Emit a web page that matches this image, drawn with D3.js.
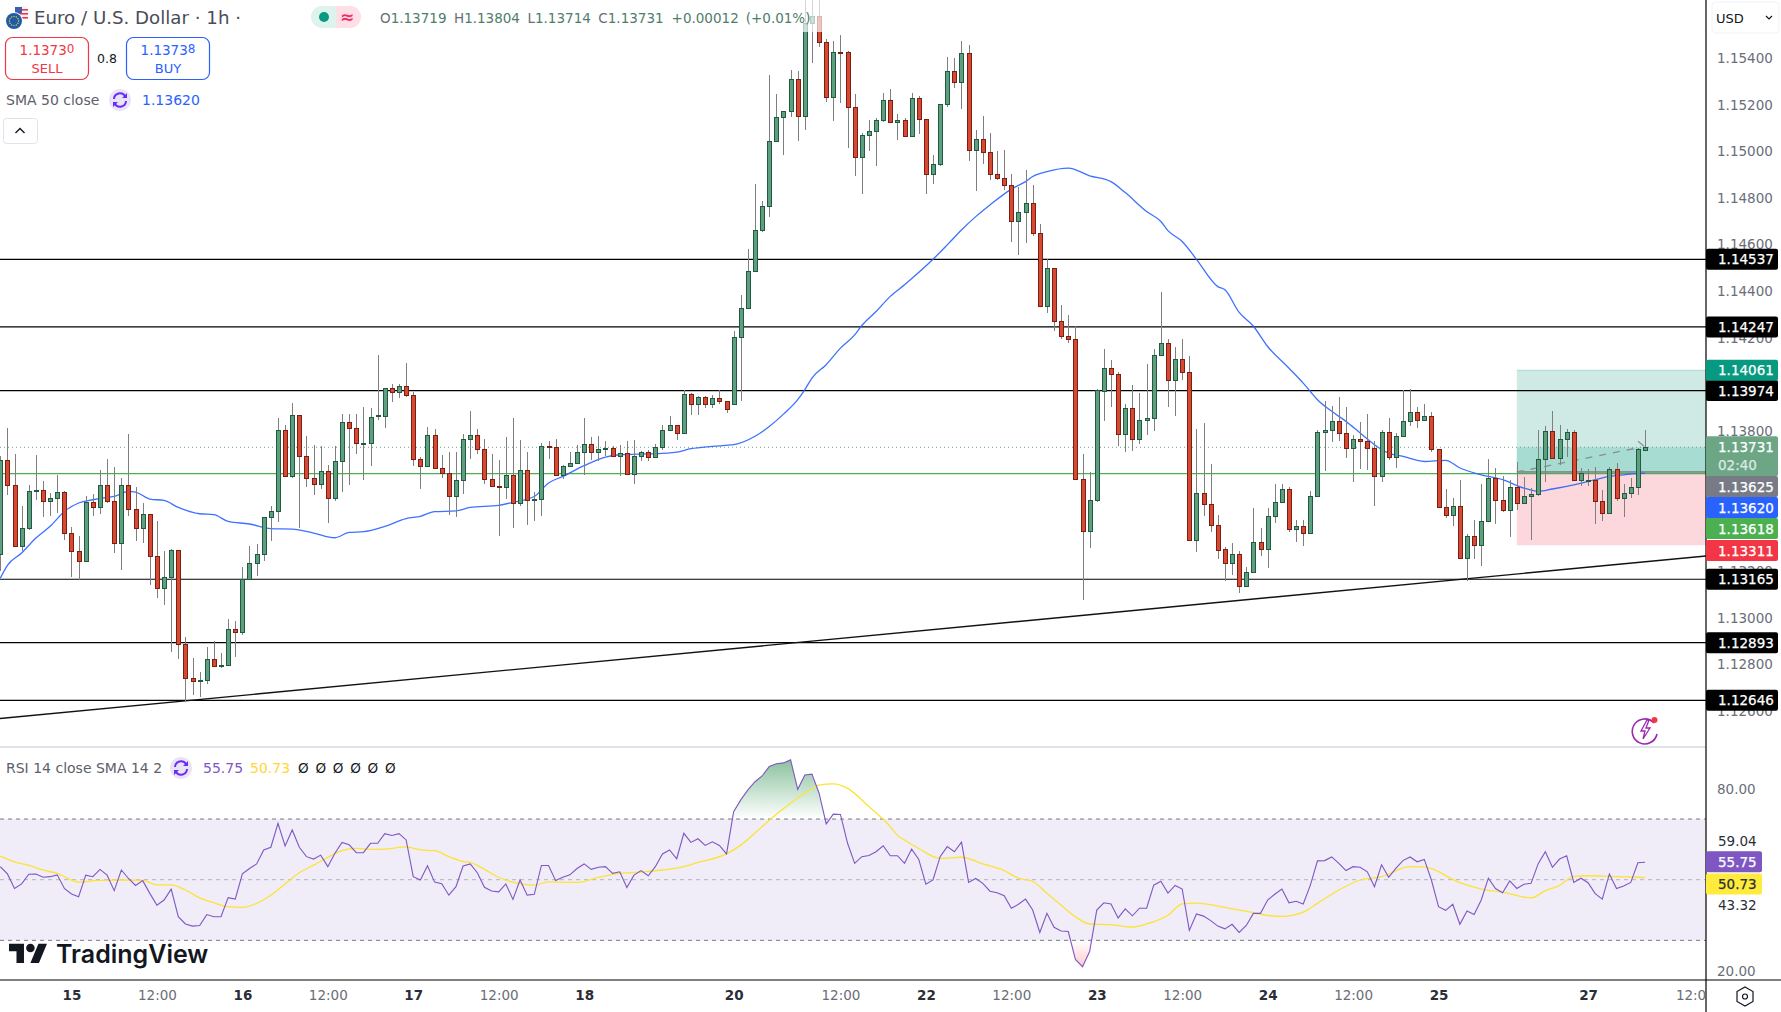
<!DOCTYPE html>
<html>
<head>
<meta charset="utf-8">
<script src="https://cdn.jsdelivr.net/npm/d3@7"></script>
<style>
html, body { margin: 0; padding: 0; background: #fff; }
svg { display: block; }
text { font-family: "DejaVu Sans", sans-serif; }
</style>
</head>
<body>
<div id="viz"></div>
<script>
// EUR/USD 1h candles
var highs = [
1.13692,1.13813,1.13703,1.13480,1.13570,1.13699,1.13585,1.13535,1.13613,1.13545,
1.13390,1.13352,1.13523,1.13532,1.13635,1.13682,1.13648,1.13599,1.13789,1.13560,
1.13492,1.13445,1.13416,1.13288,1.13295,1.13290,1.12919,1.12829,1.12769,1.12875,
1.12900,1.12850,1.12996,1.12988,1.13219,1.13309,1.13318,1.13432,1.13480,1.13856,
1.13828,1.13920,1.13869,1.13780,1.13742,1.13736,1.13656,1.13736,1.13873,1.13873,
1.13873,1.13902,1.13899,1.14128,1.13985,1.14003,1.14003,1.14092,1.13966,1.13689,
1.13818,1.13809,1.13699,1.13712,1.13710,1.13789,1.13888,1.13809,1.13768,1.13703,
1.13678,1.13775,1.13858,1.13763,1.13710,1.13539,1.13749,1.13760,1.13766,1.13653,
1.13709,1.13742,1.13858,1.13776,1.13780,1.13759,1.13738,1.13742,1.13759,1.13763,
1.13716,1.13720,1.13746,1.13826,1.13866,1.13826,1.13975,1.13963,1.13949,1.13949,
1.13955,1.13975,1.13929,1.14230,1.14385,1.14580,1.14860,1.14788,1.15328,1.15246,
1.15172,1.15349,1.15345,1.15649,1.15649,1.15649,1.15482,1.15473,1.15499,1.15430,
1.15245,1.15078,1.15135,1.15142,1.15249,1.15268,1.15160,1.15142,1.15249,1.15236,
1.15138,1.14983,1.15202,1.15403,1.15400,1.15473,1.15456,1.15092,1.15152,1.15078,
1.15002,1.15006,1.14902,1.14849,1.14920,1.14856,1.14689,1.14538,1.14499,1.14340,
1.14299,1.14249,1.13702,1.13625,1.13980,1.14153,1.14106,1.14055,1.13918,1.13999,
1.13963,1.14089,1.14153,1.14396,1.14196,1.14162,1.14196,1.14123,1.13810,1.13835,
1.13659,1.13440,1.13303,1.13320,1.13288,1.13219,1.13472,1.13386,1.13470,1.13575,
1.13575,1.13560,1.13420,1.13420,1.13543,1.13806,1.13929,1.13908,1.13946,1.13903,
1.13783,1.13839,1.13875,1.13758,1.13805,1.13856,1.13792,1.13975,1.13980,1.13903,
1.13916,1.13882,1.13723,1.13552,1.13513,1.13592,1.13359,1.13420,1.13575,1.13680,
1.13642,1.13608,1.13592,1.13669,1.13603,1.13558,1.13805,1.13822,1.13886,1.13826,
1.13809,1.13805,1.13642,1.13638,1.13646,1.13548,1.13646,1.13663,1.13573,1.13599,
1.13728,1.13804];
var lows = [
1.13199,1.13528,1.13302,1.13285,1.13378,1.13503,1.13430,1.13435,1.13449,1.13335,
1.13173,1.13160,1.13242,1.13435,1.13446,1.13490,1.13279,1.13206,1.13438,1.13330,
1.13322,1.13142,1.13086,1.13053,1.12855,1.12825,1.12642,1.12668,1.12662,1.12718,
1.12792,1.12786,1.12796,1.12833,1.12928,1.13166,1.13180,1.13245,1.13330,1.13412,
1.13606,1.13598,1.13383,1.13559,1.13525,1.13550,1.13405,1.13499,1.13540,1.13570,
1.13703,1.13592,1.13652,1.13849,1.13815,1.13923,1.13942,1.13945,1.13649,1.13553,
1.13649,1.13640,1.13600,1.13442,1.13430,1.13532,1.13682,1.13703,1.13575,1.13560,
1.13352,1.13510,1.13386,1.13478,1.13399,1.13413,1.13435,1.13682,1.13610,1.13595,
1.13645,1.13658,1.13610,1.13678,1.13670,1.13695,1.13692,1.13606,1.13615,1.13572,
1.13670,1.13670,1.13683,1.13720,1.13805,1.13763,1.13786,1.13870,1.13870,1.13900,
1.13900,1.13918,1.13879,1.13916,1.13928,1.14328,1.14486,1.14652,1.14720,1.15043,
1.14985,1.15149,1.15046,1.15092,1.15378,1.15449,1.15213,1.15132,1.15209,1.15016,
1.14896,1.14815,1.15003,1.14935,1.15125,1.15125,1.15050,1.15063,1.15065,1.15075,
1.14819,1.14858,1.14938,1.15192,1.15273,1.15183,1.14960,1.14828,1.14946,1.14878,
1.14878,1.14835,1.14612,1.14556,1.14609,1.14635,1.14336,1.14308,1.14228,1.14196,
1.14176,1.13595,1.13078,1.13298,1.13495,1.13845,1.13902,1.13735,1.13709,1.13713,
1.13746,1.13785,1.13799,1.14126,1.13902,1.13863,1.14020,1.13333,1.13280,1.13435,
1.13366,1.13252,1.13156,1.13182,1.13105,1.13135,1.13196,1.13263,1.13215,1.13405,
1.13496,1.13366,1.13326,1.13309,1.13363,1.13522,1.13628,1.13752,1.13759,1.13683,
1.13580,1.13636,1.13632,1.13478,1.13580,1.13675,1.13640,1.13779,1.13822,1.13812,
1.13848,1.13710,1.13470,1.13426,1.13395,1.13256,1.13158,1.13253,1.13220,1.13415,
1.13400,1.13452,1.13345,1.13460,1.13492,1.13332,1.13522,1.13580,1.13685,1.13653,
1.13689,1.13590,1.13563,1.13563,1.13400,1.13413,1.13449,1.13499,1.13430,1.13513,
1.13528,1.13714];
var opens = [
1.13273,1.13676,1.13569,1.13306,1.13383,1.13545,1.13548,1.13499,1.13513,1.13539,
1.13363,1.13286,1.13242,1.13496,1.13473,1.13569,1.13501,1.13319,1.13569,1.13466,
1.13383,1.13445,1.13264,1.13126,1.13173,1.13290,1.12887,1.12742,1.12728,1.12732,
1.12823,1.12792,1.12796,1.12952,1.12938,1.13166,1.13235,1.13273,1.13432,1.13456,
1.13805,1.13606,1.13869,1.13693,1.13599,1.13573,1.13629,1.13513,1.13672,1.13839,
1.13813,1.13748,1.13748,1.13863,1.13863,1.13985,1.13966,1.13993,1.13955,1.13680,
1.13649,1.13783,1.13642,1.13620,1.13520,1.13589,1.13764,1.13783,1.13723,1.13595,
1.13565,1.13559,1.13612,1.13492,1.13633,1.13503,1.13508,1.13736,1.13732,1.13610,
1.13649,1.13662,1.13709,1.13745,1.13709,1.13722,1.13728,1.13692,1.13706,1.13615,
1.13692,1.13710,1.13688,1.13732,1.13805,1.13826,1.13792,1.13959,1.13916,1.13946,
1.13916,1.13942,1.13929,1.13916,1.14203,1.14328,1.14486,1.14662,1.14765,1.15043,
1.15146,1.15172,1.15309,1.15150,1.15549,1.15580,1.15468,1.15232,1.15425,1.15425,
1.15189,1.14975,1.15069,1.15086,1.15133,1.15219,1.15125,1.15133,1.15065,1.15228,
1.15138,1.14902,1.14943,1.15202,1.15343,1.15296,1.15420,1.15005,1.15052,1.14996,
1.14902,1.14885,1.14855,1.14700,1.14739,1.14778,1.14649,1.14336,1.14499,1.14272,
1.14208,1.14195,1.13595,1.13372,1.13505,1.13972,1.14070,1.14045,1.13786,1.13899,
1.13765,1.13846,1.13855,1.14126,1.14178,1.14018,1.14109,1.14053,1.13333,1.13535,
1.13486,1.13398,1.13296,1.13235,1.13273,1.13135,1.13196,1.13325,1.13293,1.13436,
1.13496,1.13552,1.13380,1.13393,1.13363,1.13522,1.13796,1.13805,1.13843,1.13792,
1.13728,1.13766,1.13758,1.13728,1.13606,1.13796,1.13688,1.13779,1.13843,1.13882,
1.13848,1.13865,1.13723,1.13475,1.13440,1.13479,1.13256,1.13350,1.13312,1.13415,
1.13599,1.13505,1.13462,1.13560,1.13492,1.13522,1.13529,1.13680,1.13800,1.13685,
1.13766,1.13796,1.13590,1.13586,1.13590,1.13500,1.13449,1.13638,1.13513,1.13535,
1.13560,1.13719];
var closes = [
1.13678,1.13569,1.13306,1.13385,1.13543,1.13548,1.13499,1.13513,1.13539,1.13363,
1.13285,1.13242,1.13496,1.13473,1.13569,1.13499,1.13319,1.13569,1.13465,1.13383,
1.13445,1.13263,1.13126,1.13175,1.13290,1.12886,1.12742,1.12728,1.12733,1.12823,
1.12792,1.12798,1.12952,1.12938,1.13166,1.13235,1.13273,1.13432,1.13458,1.13805,
1.13606,1.13869,1.13692,1.13599,1.13573,1.13629,1.13513,1.13672,1.13839,1.13813,
1.13748,1.13750,1.13860,1.13869,1.13985,1.13966,1.13993,1.13953,1.13679,1.13649,
1.13783,1.13640,1.13619,1.13520,1.13590,1.13766,1.13783,1.13722,1.13593,1.13563,
1.13563,1.13612,1.13492,1.13633,1.13503,1.13509,1.13736,1.13733,1.13610,1.13650,
1.13663,1.13710,1.13745,1.13709,1.13723,1.13728,1.13692,1.13706,1.13615,1.13693,
1.13710,1.13688,1.13732,1.13805,1.13826,1.13792,1.13959,1.13916,1.13946,1.13916,
1.13942,1.13929,1.13895,1.14203,1.14328,1.14486,1.14662,1.14765,1.15043,1.15146,
1.15172,1.15309,1.15150,1.15549,1.15580,1.15468,1.15232,1.15425,1.15423,1.15189,
1.14975,1.15069,1.15086,1.15133,1.15219,1.15125,1.15133,1.15065,1.15228,1.15138,
1.14902,1.14945,1.15202,1.15343,1.15296,1.15420,1.15005,1.15052,1.14996,1.14902,
1.14885,1.14855,1.14700,1.14739,1.14778,1.14649,1.14336,1.14499,1.14270,1.14208,
1.14195,1.13595,1.13372,1.13505,1.13975,1.14070,1.14045,1.13786,1.13899,1.13765,
1.13848,1.13856,1.14126,1.14178,1.14018,1.14109,1.14053,1.13333,1.13535,1.13486,
1.13398,1.13292,1.13235,1.13273,1.13135,1.13196,1.13325,1.13293,1.13436,1.13496,
1.13552,1.13380,1.13393,1.13363,1.13522,1.13796,1.13805,1.13843,1.13792,1.13728,
1.13765,1.13758,1.13728,1.13606,1.13796,1.13688,1.13779,1.13843,1.13882,1.13848,
1.13865,1.13723,1.13475,1.13440,1.13479,1.13256,1.13350,1.13312,1.13415,1.13599,
1.13505,1.13462,1.13560,1.13492,1.13522,1.13529,1.13680,1.13800,1.13685,1.13766,
1.13796,1.13590,1.13620,1.13590,1.13500,1.13449,1.13638,1.13513,1.13535,1.13560,
1.13723,1.13731];

// SMA 50, read at the bars where it bends
var smaBars = [0,1,3,5,7,9,11,13,15,16,18,19,21,23,25,28,30,32,35,38,41,44,47,49,51,54,57,59,61,64,66,70,72,75,77,79,82,85,87,90,92,95,97,100,103,106,108,110,112,113,114,116,118,120,121,123,125,127,131,133,135,137,139,142,144,145,147,150,153,156,158,161,163,164,166,168,171,172,174,176,178,181,183,184,185,187,189,191,193,195,197,200,203,205,208,211,214,216,218,221,224,226,228,231];
var smaValues = [1.13170,1.13225,1.13278,1.13342,1.13392,1.13456,1.13492,1.13506,1.13516,1.13520,1.13542,1.13539,1.13509,1.13503,1.13473,1.13446,1.13442,1.13413,1.13402,1.13382,1.13380,1.13363,1.13343,1.13366,1.13369,1.13392,1.13425,1.13435,1.13455,1.13458,1.13473,1.13482,1.13495,1.13520,1.13578,1.13606,1.13652,1.13689,1.13699,1.13702,1.13703,1.13710,1.13725,1.13735,1.13742,1.13778,1.13820,1.13873,1.13935,1.13978,1.14028,1.14085,1.14156,1.14213,1.14253,1.14313,1.14378,1.14428,1.14537,1.14599,1.14663,1.14720,1.14770,1.14838,1.14870,1.14892,1.14913,1.14928,1.14895,1.14870,1.14823,1.14742,1.14699,1.14660,1.14613,1.14537,1.14420,1.14406,1.14309,1.14250,1.14163,1.14070,1.14006,1.13970,1.13935,1.13885,1.13842,1.13792,1.13742,1.13706,1.13692,1.13670,1.13675,1.13642,1.13613,1.13592,1.13556,1.13542,1.13552,1.13570,1.13592,1.13606,1.13613,1.13620];

// RSI 14, one value per bar
var rsiValues = [
54.3,51.9,47.1,48.6,51.8,51.9,50.8,51.0,51.6,47.1,
45.3,44.4,51.5,51.0,53.4,51.5,46.4,53.2,50.4,48.1,
49.7,45.5,41.6,43.3,46.9,37.8,35.4,34.7,34.9,38.5,
37.8,37.8,44.1,43.6,51.9,53.7,55.2,59.8,60.7,68.6,
61.1,66.4,60.7,57.6,56.8,58.1,54.3,58.7,62.3,61.5,
58.9,58.9,62.0,62.0,65.2,64.6,65.2,63.1,51.0,49.9,
54.6,49.2,48.7,44.9,47.7,54.5,55.2,52.3,47.5,46.3,
46.0,48.6,43.5,49.9,44.9,45.2,54.7,54.7,49.7,50.8,
51.6,53.7,55.2,53.4,54.1,54.3,52.1,52.6,47.4,51.5,
53.0,51.3,54.3,58.5,59.8,56.9,65.3,62.3,63.5,61.3,
62.5,61.3,58.5,72.4,76.3,79.6,82.3,84.2,87.3,88.2,
88.5,89.5,79.8,84.5,84.8,78.5,68.4,71.6,71.5,62.0,
55.4,57.6,58.0,59.2,61.2,57.9,57.9,55.4,60.1,56.7,
48.5,49.9,57.6,60.9,59.2,62.4,49.1,50.4,48.8,46.2,
45.7,44.7,40.6,41.9,43.6,40.0,32.6,38.9,34.3,33.1,
32.9,23.7,21.3,26.3,40.0,42.4,42.0,37.4,40.4,38.1,
40.6,40.6,48.2,49.5,45.6,48.1,46.9,33.3,38.7,38.0,
36.5,34.7,33.8,35.3,32.6,34.9,38.9,38.9,43.3,45.2,
46.9,42.4,42.9,42.0,48.2,56.2,56.3,57.5,55.4,53.0,
54.3,54.1,52.6,47.7,54.9,50.8,53.7,56.3,57.5,55.9,
56.7,49.9,41.1,39.9,41.9,35.3,39.7,38.5,43.3,50.5,
47.1,45.7,49.6,47.1,48.5,48.8,55.3,59.2,54.1,56.8,
57.9,49.1,50.5,49.0,45.4,43.6,51.9,47.1,47.9,49.1,
55.6,55.75];

// RSI smoothing line
var rsiMaBars = [0,2,4,6,8,11,14,17,20,22,24,26,28,30,32,34,36,38,40,42,44,46,48,50,52,54,57,59,61,63,65,66,68,70,72,75,77,81,84,87,90,93,96,98,102,104,107,109,111,113,115,117,119,122,125,126,127,129,132,135,138,141,143,145,147,149,151,153,156,159,161,164,166,168,172,176,178,180,183,185,188,191,194,198,200,205,208,211,215,217,219,221,223,226,231];
var rsiMaValues = [57.8,55.9,54.7,53.2,52.1,49.2,49.8,49.9,49.8,48.3,48.3,46.6,44.0,42.4,41.1,40.9,42.2,44.9,48.6,52.3,54.8,57.4,59.6,60.3,60.0,60.1,60.8,59.8,59.6,57.6,56.0,55.7,53.4,50.8,49.2,48.2,49.3,49.1,50.8,52.1,52.5,53.2,54.3,55.7,58.5,61.4,67.5,71.6,75.2,78.5,81.2,81.6,80.1,74.1,67.5,64.7,63.1,60.3,57.0,57.4,55.2,53.0,50.5,49.4,45.5,41.6,37.8,35.4,35.2,34.4,35.4,38.3,42.0,42.3,40.9,39.1,38.2,37.9,39.3,42.2,46.6,49.9,51.0,54.3,54.2,49.0,46.9,45.9,44.0,46.4,48.1,51.1,51.3,51.1,50.73];

// horizontal levels, trend line ends, axis labels
var levels = [1.14537, 1.14247, 1.13974, 1.13165, 1.12893, 1.12646];
var trendPrices = [1.12568, 1.13265];
var priceTicks = [1.154, 1.152, 1.15, 1.148, 1.146, 1.144, 1.142, 1.138, 1.132, 1.13, 1.128, 1.126];
var rsiTicks = [80, 20];
var timeBars = [10, 22, 34, 46, 58, 70, 82, 103, 118, 130, 142, 154, 166, 178, 190, 202, 223, 238];
var timeLabels = ["15", "12:00", "16", "12:00", "17", "12:00", "18", "20", "12:00", "22", "12:00", "23", "12:00", "24", "12:00", "25", "27", "12:00"];
var position = { stop: 1.13311, entry: 1.13625, target: 1.14061 };
var lastPrice = 1.13731, lastBar = 231, greenLevel = 1.13618, smaLast = 1.13620;

var width = 1781, height = 1012;
var plotRight = 1706, paneBottom = 747, axisTop = 980;

var svg = d3.select("#viz").append("svg").attr("width", width).attr("height", height);
var defs = svg.append("defs");

var x = d3.scaleLinear().domain([0, lastBar]).range([0.3, 1645]);
var y = d3.scaleLinear().domain([1.14537, 1.12646]).range([259.3, 700.3]);
var rsiY = d3.scaleLinear().domain([80, 20]).range([788.7, 970.7]);
var rightBar = x.invert(plotRight);

defs.append("clipPath").attr("id", "mainClip").append("rect").attr("width", plotRight).attr("height", paneBottom);
defs.append("clipPath").attr("id", "timeClip").append("rect").attr("width", plotRight).attr("height", height);
defs.append("clipPath").attr("id", "rsiUp").append("rect").attr("width", plotRight).attr("height", rsiY(70));
defs.append("clipPath").attr("id", "rsiDown").append("rect").attr("y", rsiY(30)).attr("width", plotRight).attr("height", 60);

var main = svg.append("g").attr("clip-path", "url(#mainClip)");

// long position tool
main.append("rect").attr("x", x(213)).attr("width", x(rightBar) - x(213))
    .attr("y", y(position.target)).attr("height", y(position.entry) - y(position.target)).attr("fill", "#cfeae5");
main.append("rect").attr("x", x(213)).attr("width", x(rightBar) - x(213))
    .attr("y", y(lastPrice)).attr("height", y(position.entry) - y(lastPrice)).attr("fill", "#a7dcd2");
main.append("rect").attr("x", x(213)).attr("width", x(rightBar) - x(213))
    .attr("y", y(position.entry)).attr("height", y(position.stop) - y(position.entry)).attr("fill", "#fcd7db");
main.append("line").attr("x1", x(213)).attr("x2", plotRight)
    .attr("y1", y(position.target)).attr("y2", y(position.target)).attr("stroke", "#a5dcd0");

// price lines
main.append("line").attr("x1", 0).attr("x2", plotRight).attr("y1", y(lastPrice)).attr("y2", y(lastPrice))
    .attr("stroke", "#6fa58a").attr("stroke-dasharray", "1 3");
main.append("line").attr("x1", 0).attr("x2", plotRight).attr("y1", y(greenLevel)).attr("y2", y(greenLevel))
    .attr("stroke", "#4caf50").attr("stroke-width", 1.2);
main.append("line").attr("x1", x(213)).attr("x2", plotRight).attr("y1", y(position.entry)).attr("y2", y(position.entry))
    .attr("stroke", "#787b86").attr("stroke-width", 1.5);
main.selectAll(".level").data(levels).enter().append("line")
    .attr("x1", 0).attr("x2", plotRight)
    .attr("y1", function(d) { return y(d); }).attr("y2", function(d) { return y(d); })
    .attr("stroke", "#000").attr("stroke-width", 1.2);
main.append("line").attr("x1", 0).attr("x2", plotRight)
    .attr("y1", y(trendPrices[0])).attr("y2", y(trendPrices[1]))
    .attr("stroke", "#111").attr("stroke-width", 1.4);

// dashed path of the open position
main.append("line").attr("x1", x(213)).attr("x2", x(lastBar) - 4)
    .attr("y1", y(position.entry)).attr("y2", y(lastPrice))
    .attr("stroke", "#8a8d96").attr("stroke-width", 1.3).attr("stroke-dasharray", "7 7");
main.append("path").attr("fill", "none").attr("stroke", "#8a8d96").attr("stroke-width", 1.2)
    .attr("d", "M" + (x(lastBar) - 7) + "," + (y(lastPrice) - 6) + "l6,5");

// SMA goes under the candles
var smaLine = d3.line().x(function(d, i) { return x(smaBars[i]); }).y(function(d) { return y(d); }).curve(d3.curveMonotoneX);
main.append("path").attr("d", smaLine(smaValues)).attr("fill", "none").attr("stroke", "#2962ff").attr("stroke-width", 1.3).attr("opacity", 0.9);

// candles
var candles = main.selectAll(".candle").data(closes).enter().append("g").attr("shape-rendering", "crispEdges");
candles.append("line")
    .attr("x1", function(d, i) { return Math.round(x(i)) + 0.5; })
    .attr("x2", function(d, i) { return Math.round(x(i)) + 0.5; })
    .attr("y1", function(d, i) { return y(highs[i]); })
    .attr("y2", function(d, i) { return y(lows[i]); })
    .attr("stroke", "#7f7f7f");
candles.append("rect")
    .attr("x", function(d, i) { return Math.round(x(i)) - 1.5; })
    .attr("width", 4)
    .attr("y", function(d, i) { return Math.round(y(Math.max(opens[i], d))) + 0.5; })
    .attr("height", function(d, i) { return Math.max(1, Math.round(Math.abs(y(opens[i]) - y(d)))); })
    .attr("fill", function(d, i) { return d >= opens[i] ? "#5f9f7f" : "#d64a34"; })
    .attr("stroke", function(d, i) { return d >= opens[i] ? "#1f5b41" : "#7d1e12"; });

// RSI pane
svg.append("rect").attr("x", 0).attr("width", plotRight).attr("y", rsiY(70)).attr("height", rsiY(30) - rsiY(70)).attr("fill", "#f0ecf8");
var gradUp = defs.append("linearGradient").attr("id", "gradUp").attr("gradientUnits", "userSpaceOnUse")
    .attr("x1", 0).attr("x2", 0).attr("y1", rsiY(90)).attr("y2", rsiY(70));
gradUp.append("stop").attr("offset", 0).attr("stop-color", "#3f9a5f").attr("stop-opacity", 0.62);
gradUp.append("stop").attr("offset", 1).attr("stop-color", "#3f9a5f").attr("stop-opacity", 0);
var gradDown = defs.append("linearGradient").attr("id", "gradDown").attr("gradientUnits", "userSpaceOnUse")
    .attr("x1", 0).attr("x2", 0).attr("y1", rsiY(20)).attr("y2", rsiY(30));
gradDown.append("stop").attr("offset", 0).attr("stop-color", "#f23645").attr("stop-opacity", 0.3);
gradDown.append("stop").attr("offset", 1).attr("stop-color", "#f23645").attr("stop-opacity", 0);

var rsiAreaUp = d3.area().x(function(d, i) { return x(i); }).y0(rsiY(70)).y1(function(d) { return rsiY(d); });
var rsiAreaDown = d3.area().x(function(d, i) { return x(i); }).y0(rsiY(30)).y1(function(d) { return rsiY(d); });
svg.append("path").attr("clip-path", "url(#rsiUp)").attr("d", rsiAreaUp(rsiValues)).attr("fill", "url(#gradUp)");
svg.append("path").attr("clip-path", "url(#rsiDown)").attr("d", rsiAreaDown(rsiValues)).attr("fill", "url(#gradDown)");

svg.selectAll(".rsiGuide").data([70, 50, 30]).enter().append("line")
    .attr("x1", 0).attr("x2", plotRight)
    .attr("y1", function(d) { return rsiY(d); }).attr("y2", function(d) { return rsiY(d); })
    .attr("stroke", function(d) { return d == 50 ? "#b2b5be" : "#787b86"; })
    .attr("stroke-dasharray", "4 4");

var rsiLine = d3.line().x(function(d, i) { return x(i); }).y(function(d) { return rsiY(d); });
var rsiMaLine = d3.line().x(function(d, i) { return x(rsiMaBars[i]); }).y(function(d) { return rsiY(d); }).curve(d3.curveMonotoneX);
svg.append("path").attr("d", rsiMaLine(rsiMaValues)).attr("fill", "none").attr("stroke", "#fde335").attr("stroke-width", 1.3);
svg.append("path").attr("d", rsiLine(rsiValues)).attr("fill", "none").attr("stroke", "#7e57c2").attr("stroke-width", 1.1);

// frame
svg.append("line").attr("x1", 0).attr("x2", plotRight).attr("y1", paneBottom).attr("y2", paneBottom).attr("stroke", "#e0e3eb").attr("stroke-width", 2);
svg.append("line").attr("x1", 0).attr("x2", width).attr("y1", axisTop).attr("y2", axisTop).attr("stroke", "#000").attr("stroke-width", 1.2);
svg.append("line").attr("x1", plotRight).attr("x2", plotRight).attr("y1", 0).attr("y2", height).attr("stroke", "#000").attr("stroke-width", 1.2);

// price axis
var priceAxis = d3.axisRight(y).tickValues(priceTicks).tickFormat(d3.format(".5f")).tickSize(0).tickPadding(11);
var priceG = svg.append("g").attr("transform", "translate(" + plotRight + ",0)").call(priceAxis);
priceG.select(".domain").remove();
priceG.selectAll("text").attr("fill", "#6a6d78").attr("font-size", 13.5).style("font-family", "DejaVu Sans");

var rsiAxis = d3.axisRight(rsiY).tickValues(rsiTicks).tickFormat(d3.format(".2f")).tickSize(0).tickPadding(11);
var rsiG = svg.append("g").attr("transform", "translate(" + plotRight + ",0)").call(rsiAxis);
rsiG.select(".domain").remove();
rsiG.selectAll("text").attr("fill", "#6a6d78").attr("font-size", 13.5).style("font-family", "DejaVu Sans");

// time axis
var timeAxis = d3.axisBottom(x).tickValues(timeBars).tickSize(0).tickPadding(10)
    .tickFormat(function(d, i) { return timeLabels[i]; });
var timeG = svg.append("g").attr("clip-path", "url(#timeClip)").append("g")
    .attr("transform", "translate(0," + axisTop + ")").call(timeAxis);
timeG.select(".domain").remove();
timeG.selectAll("text")
    .attr("font-size", 13.5).style("font-family", "DejaVu Sans")
    .attr("fill", function(d, i) { return timeLabels[i] == "12:00" ? "#6a6d78" : "#2a2e39"; })
    .attr("font-weight", function(d, i) { return timeLabels[i] == "12:00" ? 400 : 700; });

// price tags on the axis
function tagText(xPos, yPos, color, label) {
    svg.append("text").attr("x", xPos).attr("y", yPos).attr("font-size", 13.5).attr("fill", color)
        .attr("stroke", color).attr("stroke-width", 0.25).text(label);
}
function tag(value, color, textColor, label) {
    var cy = y(value);
    svg.append("rect").attr("x", plotRight).attr("y", cy - 10.5).attr("width", 72).attr("height", 21).attr("rx", 2).attr("fill", color);
    tagText(1718, cy + 5, textColor, label);
}
levels.forEach(function(d) { tag(d, "#000", "#fff", d3.format(".5f")(d)); });
tag(position.target, "#089981", "#fff", d3.format(".5f")(position.target));

svg.append("rect").attr("x", plotRight).attr("y", y(lastPrice) - 11).attr("width", 72).attr("height", 40).attr("rx", 2).attr("fill", "#6da685");
tagText(1718, y(lastPrice) + 5, "#fff", d3.format(".5f")(lastPrice));
tagText(1718, y(lastPrice) + 23, "#dcebe2", "02:40");

var stackTags = [
    { label: "1.13625", color: "#787b86", top: 476 },
    { label: "1.13620", color: "#2962ff", top: 497 },
    { label: "1.13618", color: "#4caf50", top: 518 },
    { label: "1.13311", color: "#f23645", top: 540 }
];
stackTags.forEach(function(t) {
    svg.append("rect").attr("x", plotRight).attr("y", t.top).attr("width", 72).attr("height", 21).attr("rx", 2).attr("fill", t.color);
    tagText(1718, t.top + 16, "#fff", t.label);
});

// RSI tags
svg.append("text").attr("x", 1718).attr("y", rsiY(59.04) - 6).attr("font-size", 13.5).attr("fill", "#2a2e39").text("59.04");
svg.append("text").attr("x", 1718).attr("y", rsiY(43.32) + 10).attr("font-size", 13.5).attr("fill", "#2a2e39").text("43.32");
svg.append("rect").attr("x", plotRight).attr("y", rsiY(55.75) - 11).attr("width", 56).attr("height", 21).attr("rx", 2).attr("fill", "#7e57c2");
tagText(1718, rsiY(55.75) + 5, "#fff", "55.75");
svg.append("rect").attr("x", plotRight).attr("y", rsiY(50.73) - 4).attr("width", 56).attr("height", 21).attr("rx", 2).attr("fill", "#ffeb3b");
tagText(1718, rsiY(50.73) + 12, "#2a2e39", "50.73");

// USD button and settings icon
svg.append("rect").attr("x", 1712).attr("y", 2).attr("width", 67).attr("height", 31).attr("rx", 4).attr("fill", "#fff").attr("stroke", "#f0f3fa");
svg.append("text").attr("x", 1716).attr("y", 23).attr("font-size", 13).attr("fill", "#131722").text("USD");
svg.append("path").attr("d", "M1766,16l3,3l3,-3").attr("fill", "none").attr("stroke", "#131722").attr("stroke-width", 1.2);
svg.append("path").attr("d", "M1745,987l8,4.5v10l-8,4.5l-8,-4.5v-10z").attr("fill", "none").attr("stroke", "#131722").attr("stroke-width", 1.2);
svg.append("circle").attr("cx", 1745).attr("cy", 996.5).attr("r", 2.5).attr("fill", "none").attr("stroke", "#131722").attr("stroke-width", 1.2);

// legend: white veil over the candles behind the OHLC text
svg.append("rect").attr("x", 376).attr("y", 0).attr("width", 447).attr("height", 32).attr("fill", "#fff").attr("opacity", 0.68);

// flags
svg.append("circle").attr("cx", 22).attr("cy", 13).attr("r", 7).attr("fill", "#f4f4f6");
[9, 13, 17].forEach(function(cy) {
    svg.append("rect").attr("x", 18).attr("y", cy).attr("width", 10).attr("height", 1.6).attr("fill", "#e8384f");
});
svg.append("rect").attr("x", 15).attr("y", 7).attr("width", 7).attr("height", 6).attr("fill", "#3a5fb0");
svg.append("circle").attr("cx", 14).attr("cy", 21).attr("r", 9).attr("fill", "#fff");
svg.append("circle").attr("cx", 14).attr("cy", 21).attr("r", 8).attr("fill", "#1e5ca8");
d3.range(12).forEach(function(k) {
    var a = k * Math.PI / 6;
    svg.append("circle").attr("cx", 14 + 4.6 * Math.cos(a)).attr("cy", 21 + 4.6 * Math.sin(a)).attr("r", 0.7).attr("fill", "#f5cf32");
});

svg.append("text").attr("x", 34).attr("y", 24).attr("font-size", 18.2).attr("fill", "#4a4d57").text("Euro / U.S. Dollar · 1h ·");

// market status pill
svg.append("path").attr("d", "M336,6h-14a11,11 0 0 0 0,22h14z").attr("fill", "#dff3ee");
svg.append("path").attr("d", "M336,6h14a11,11 0 0 1 0,22h-14z").attr("fill", "#fce0e5");
svg.append("circle").attr("cx", 324).attr("cy", 17).attr("r", 5).attr("fill", "#089981");
svg.append("text").attr("x", 347).attr("y", 23).attr("text-anchor", "middle").attr("font-size", 17).attr("font-weight", 700).attr("fill", "#f7296f").text("≈");

// OHLC
var ohlc = svg.append("text").attr("x", 380).attr("y", 23).attr("font-size", 13.5).attr("fill", "#4d7d69");
[["O", "1.13719"], ["H", "1.13804"], ["L", "1.13714"], ["C", "1.13731"]].forEach(function(p, k) {
    ohlc.append("tspan").attr("dx", k ? 7.5 : 0).attr("fill", "#6a6d78").text(p[0]);
    ohlc.append("tspan").text(p[1]);
});
ohlc.append("tspan").attr("dx", 8).text("+0.00012");
ohlc.append("tspan").attr("dx", 7).text("(+0.01%)");

// sell and buy
function tradeButton(left, color, main5, small, word) {
    svg.append("rect").attr("x", left + 0.5).attr("y", 37.5).attr("width", 83).attr("height", 42).attr("rx", 7).attr("fill", "#fff").attr("stroke", color).attr("stroke-width", 1.2);
    var t = svg.append("text").attr("x", left + 42).attr("y", 55).attr("text-anchor", "middle").attr("font-size", 13.5).attr("fill", color);
    t.append("tspan").text(main5);
    t.append("tspan").attr("font-size", 12).attr("dy", -2).text(small);
    svg.append("text").attr("x", left + 42).attr("y", 73).attr("text-anchor", "middle").attr("font-size", 13).attr("fill", color).text(word);
}
tradeButton(5, "#f23645", "1.1373", "0", "SELL");
tradeButton(126, "#2962ff", "1.1373", "8", "BUY");
svg.append("text").attr("x", 107).attr("y", 63).attr("text-anchor", "middle").attr("font-size", 12.5).attr("fill", "#131722").text("0.8");

// refresh badge used by both legends
function refreshIcon(cx, cy) {
    svg.append("circle").attr("cx", cx).attr("cy", cy).attr("r", 11).attr("fill", "#e9e3f8");
    svg.append("path").attr("fill", "none").attr("stroke", "#6a2cf5").attr("stroke-width", 2)
        .attr("d", "M" + (cx - 6) + "," + (cy - 1) + "a6,6 0 0 1 11,-3M" + (cx + 6) + "," + (cy + 1) + "a6,6 0 0 1 -11,3");
    svg.append("path").attr("fill", "#6a2cf5").attr("d", "M" + (cx + 7) + "," + (cy - 7) + "v5h-5zM" + (cx - 7) + "," + (cy + 7) + "v-5h5z");
}
svg.append("text").attr("x", 6).attr("y", 105).attr("font-size", 14).attr("fill", "#5d606b").text("SMA 50 close");
refreshIcon(120, 100);
svg.append("text").attr("x", 142).attr("y", 105).attr("font-size", 14).attr("fill", "#2962ff").text(d3.format(".5f")(smaLast));

svg.append("rect").attr("x", 3.5).attr("y", 118.5).attr("width", 34).attr("height", 25).attr("rx", 3).attr("fill", "#fff").attr("stroke", "#e0e3eb");
svg.append("path").attr("d", "M15.5,133l4.5,-4.5l4.5,4.5").attr("fill", "none").attr("stroke", "#131722").attr("stroke-width", 1.4);

// RSI legend
svg.append("text").attr("x", 6).attr("y", 773).attr("font-size", 14).attr("fill", "#5d606b").text("RSI 14 close SMA 14 2");
refreshIcon(181, 768);
svg.append("text").attr("x", 203).attr("y", 773).attr("font-size", 14).attr("fill", "#7e57c2").text("55.75");
svg.append("text").attr("x", 250).attr("y", 773).attr("font-size", 14).attr("fill", "#fdd835").text("50.73");
d3.range(6).forEach(function(k) {
    svg.append("text").attr("x", 298 + k * 17.4).attr("y", 773).attr("font-size", 13.5).attr("fill", "#131722").text("Ø");
});

// TradingView logo
var logo = svg.append("g").attr("transform", "translate(9,939.5) scale(1.07)");
logo.append("path").attr("d", "M14 22H7V11H0V4h14v18zM28 22h-8l7.5-18h8L28 22z").attr("fill", "#131722");
logo.append("circle").attr("cx", 20).attr("cy", 8).attr("r", 4).attr("fill", "#131722");
svg.append("text").attr("x", 56).attr("y", 963).attr("font-size", 25).attr("font-weight", 600)
    .style("font-family", "Inter").attr("fill", "#131722").text("TradingView");

// lightning badge
svg.append("path").attr("d", "M1654,723a12.5,12.5 0 1 0 3,11").attr("fill", "none").attr("stroke", "#9c27b0").attr("stroke-width", 1.6);
svg.append("path").attr("d", "M1647,720l-6,11h4l-2,8l7,-11h-4l3,-8z").attr("fill", "none").attr("stroke", "#9c27b0").attr("stroke-width", 1.3);
svg.append("circle").attr("cx", 1654.5).attr("cy", 720).attr("r", 3).attr("fill", "#f23645");
</script>
</body>
</html>
